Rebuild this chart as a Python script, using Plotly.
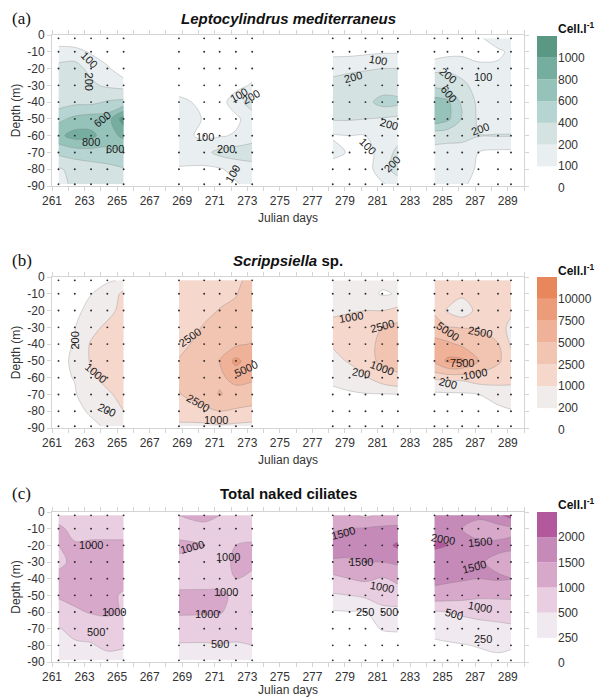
import plotly.graph_objects as go

# ---------------- data ----------------
depths = [-2, -10, -20, -30, -40, -50, -60, -70, -80, -89]

days_b1 = [261.4, 262.4, 263.4, 264.4, 265.4]
days_b2 = [268.8, 270.35, 271.3, 272.3, 273.3]
days_b3 = [278.25, 279.28, 280.26, 281.29, 282.25]
days_b4 = [284.5, 285.3, 286.2, 287.2, 288.4, 289.2]

# (a) Leptocylindrus mediterraneus (cell/l), rows = depths, cols = days
lepto_levels = [0, 100, 200, 400, 600, 800, 1000]
lepto_colors = ["#ffffff", "#e9eff1", "#d4e3e2", "#b6d5d2", "#95c2b9", "#75ad9f", "#5a9884"]
lepto_b1 = [
    [40, 40, 40, 30, 30],
    [140, 130, 90, 60, 50],
    [230, 250, 160, 110, 60],
    [260, 280, 230, 170, 130],
    [300, 350, 350, 420, 450],
    [550, 650, 700, 700, 1100],
    [750, 880, 850, 700, 850],
    [450, 500, 520, 550, 600],
    [180, 250, 300, 330, 380],
    [170, 220, 280, 300, 330],
]
lepto_b2 = [
    [30, 30, 30, 30, 30],
    [40, 40, 40, 40, 40],
    [50, 50, 50, 50, 60],
    [60, 50, 50, 70, 110],
    [120, 80, 60, 150, 250],
    [180, 90, 60, 80, 150],
    [130, 80, 90, 110, 150],
    [150, 170, 230, 250, 260],
    [90, 80, 90, 130, 150],
    [60, 50, 60, 90, 130],
]
lepto_b3 = [
    [30, 30, 30, 30, 40],
    [70, 70, 80, 90, 90],
    [170, 180, 190, 200, 200],
    [230, 250, 260, 280, 280],
    [260, 280, 330, 480, 460],
    [210, 210, 200, 180, 150],
    [90, 100, 100, 120, 160],
    [130, 90, 70, 130, 230],
    [50, 50, 60, 150, 250],
    [30, 40, 50, 90, 140],
]
lepto_b4 = [
    [40, 40, 60, 90, 130, 150],
    [60, 70, 80, 70, 90, 110],
    [150, 170, 150, 120, 110, 110],
    [350, 300, 230, 150, 130, 130],
    [700, 650, 350, 160, 150, 150],
    [750, 650, 380, 170, 150, 150],
    [260, 250, 240, 205, 205, 205],
    [150, 140, 140, 100, 80, 80],
    [140, 140, 130, 90, 70, 60],
    [120, 120, 110, 80, 60, 50],
]

# (b) Scrippsiella sp.
scrip_levels = [0, 200, 1000, 2500, 5000, 7500, 10000]
scrip_colors = ["#ffffff", "#f0ecec", "#f5d7cc", "#f2c4b2", "#f0b199", "#ed9c7a", "#e9875c"]
scrip_b1 = [
    [50, 60, 80, 150, 250],
    [60, 80, 190, 400, 1200],
    [80, 120, 300, 700, 1300],
    [90, 180, 700, 1200, 1400],
    [100, 220, 1100, 1300, 1400],
    [120, 250, 1100, 1300, 1400],
    [100, 220, 900, 1200, 1400],
    [80, 160, 500, 900, 1200],
    [60, 100, 250, 500, 1000],
    [40, 60, 120, 250, 450],
]
scrip_b2 = [
    [1200, 1500, 2000, 2300, 2800],
    [1300, 1600, 2200, 2450, 3000],
    [1400, 2200, 2550, 2700, 3200],
    [1800, 2600, 2800, 3200, 3500],
    [2100, 3000, 3500, 4500, 5200],
    [2600, 3500, 5100, 8200, 6000],
    [2800, 3800, 4500, 5800, 5500],
    [2400, 3500, 5200, 4000, 3500],
    [1800, 2000, 2500, 2200, 2000],
    [700, 700, 800, 700, 600],
]
scrip_b3 = [
    [400, 500, 500, 400, 400],
    [500, 500, 500, 120, 250],
    [800, 900, 1000, 1000, 1200],
    [1300, 1500, 1800, 2500, 3000],
    [1100, 1400, 1800, 3000, 5200],
    [700, 1100, 1600, 3000, 3800],
    [300, 500, 900, 1500, 1900],
    [100, 120, 150, 150, 180],
    [50, 50, 60, 60, 60],
    [30, 30, 40, 40, 40],
]
scrip_b4 = [
    [1500, 1800, 1800, 1800, 1700, 1500],
    [1700, 1500, 1300, 1600, 1500, 1300],
    [1800, 900, 100, 1500, 1600, 1200],
    [4500, 2600, 2400, 2300, 1500, 700],
    [5300, 5500, 4500, 3500, 2600, 800],
    [5500, 8000, 8000, 5000, 2800, 1500],
    [1100, 1200, 1200, 1500, 1500, 1300],
    [60, 80, 100, 200, 400, 600],
    [40, 40, 50, 60, 80, 150],
    [30, 30, 40, 40, 50, 80],
]

# (c) Total naked ciliates
cil_levels = [0, 250, 500, 1000, 1500, 2000]
cil_colors = ["#ffffff", "#f1e9f0", "#e9cde0", "#d8a8cb", "#c68ab9", "#b3589c"]
cil_b1 = [
    [800, 850, 850, 900, 900],
    [1100, 850, 800, 800, 800],
    [1000, 1050, 1100, 1100, 1100],
    [800, 1200, 1250, 1300, 1400],
    [1250, 1300, 1300, 1300, 1250],
    [1050, 1200, 1300, 1200, 900],
    [800, 900, 1050, 1100, 950],
    [480, 600, 600, 700, 750],
    [450, 450, 480, 550, 520],
    [350, 400, 400, 420, 430],
]
cil_b2 = [
    [1000, 1050, 1000, 900, 850],
    [900, 950, 900, 850, 800],
    [1050, 1000, 950, 1000, 1050],
    [950, 950, 900, 1050, 1100],
    [800, 850, 900, 1000, 900],
    [1100, 1080, 1050, 950, 800],
    [1050, 1050, 1050, 800, 450],
    [800, 750, 700, 700, 650],
    [450, 450, 480, 450, 500],
    [350, 380, 400, 350, 420],
]
cil_b3 = [
    [1200, 1100, 900, 1100, 1200],
    [1450, 1500, 1550, 1600, 1600],
    [1700, 1650, 1700, 1800, 2100],
    [1450, 1450, 1500, 1500, 1600],
    [850, 1000, 1100, 950, 1100],
    [450, 500, 550, 800, 800],
    [230, 240, 250, 300, 350],
    [180, 180, 200, 260, 270],
    [150, 150, 160, 170, 170],
    [150, 150, 150, 150, 150],
]
cil_b4 = [
    [1600, 1700, 1600, 1600, 1900, 2200],
    [1800, 1800, 1500, 1300, 1300, 1400],
    [2100, 2000, 1700, 1600, 1600, 1600],
    [1700, 1700, 1650, 1550, 1400, 1300],
    [1650, 1600, 1550, 1500, 1550, 1500],
    [1300, 1250, 1200, 1100, 1100, 1100],
    [450, 500, 550, 600, 650, 700],
    [300, 320, 350, 380, 400, 420],
    [220, 230, 240, 260, 280, 270],
    [200, 200, 200, 200, 220, 200],
]

# contour-label texts as printed on the figure: (text, day, depth, angle)
lepto_labels = [
    ("100", 263.3, -15, 45), ("200", 263.3, -28, 90), ("600", 264.1, -50, -40),
    ("800", 263.4, -64, 0), ("600", 264.9, -68, 0), ("100", 270.4, -60.5, 0),
    ("200", 271.7, -68, 0), ("100", 272.1, -83, -60), ("100", 272.5, -36, -30),
    ("200", 273.2, -37, -30), ("100", 281.0, -15, 10), ("200", 279.5, -25, -15),
    ("200", 281.7, -53, 15), ("100", 280.4, -66, 45), ("200", 281.9, -77, -45),
    ("200", 285.3, -24, 40), ("600", 285.4, -35, 50), ("100", 287.5, -25, 0),
    ("200", 287.3, -56, -20),
]
scrip_labels = [
    ("200", 262.4, -38, -90), ("1000", 263.7, -57, 40), ("200", 264.4, -79, 25),
    ("2500", 269.5, -36, -35), ("5000", 272.9, -55, -25), ("2500", 270.0, -75, 30),
    ("1000", 271.1, -85, 0), ("1000", 279.4, -24, -10), ("2500", 281.3, -29, -15),
    ("200", 280.0, -57, 10), ("1000", 281.3, -54, 20), ("5000", 285.3, -32, 35),
    ("2500", 287.3, -33, 10), ("7500", 286.2, -51, 0), ("1000", 287.0, -58, -10),
    ("200", 285.3, -63, 15),
]
cil_labels = [
    ("1000", 263.4, -20, 0), ("1000", 264.8, -60, 0), ("500", 263.7, -72, 0),
    ("1000", 269.6, -21, -15), ("1000", 271.8, -27, 0), ("1000", 271.7, -48, 0),
    ("1000", 270.5, -61, 0), ("500", 271.3, -79, 0), ("1500", 278.9, -12.5, -15),
    ("1500", 280.0, -30, 0), ("1000", 281.3, -45, 10), ("250", 280.2, -60, 0),
    ("500", 281.7, -60, 0), ("2000", 285.0, -16, 10), ("1500", 287.3, -18, -5),
    ("1500", 286.9, -33, -15), ("1000", 287.3, -57, 10), ("500", 285.7, -61, 15),
    ("250", 287.5, -76, 0),
]

x_tick0, x_dtick = 261, 2
y_ticks = list(range(0, -91, -10))

panels = [
    dict(tag="(a)", title="<b><i>Leptocylindrus mediterraneus</i></b>",
         levels=lepto_levels, colors=lepto_colors, labels=lepto_labels,
         blocks=[lepto_b1, lepto_b2, lepto_b3, lepto_b4]),
    dict(tag="(b)", title="<b><i>Scrippsiella</i> sp.</b>",
         levels=scrip_levels, colors=scrip_colors, labels=scrip_labels,
         blocks=[scrip_b1, scrip_b2, scrip_b3, scrip_b4]),
    dict(tag="(c)", title="<b>Total naked ciliates</b>",
         levels=cil_levels, colors=cil_colors, labels=cil_labels,
         blocks=[cil_b1, cil_b2, cil_b3, cil_b4]),
]
block_days = [days_b1, days_b2, days_b3, days_b4]

# ---------------- layout geometry (pixels) ----------------
W, H = 596, 697
plot_px = [(35, 186), (277, 428), (512, 662)]
cbar_px = [(36, 188), (277, 430), (512, 663)]
title_y = [18, 260, 493]
cbar_title_y = [28, 270, 504]
x_left, x_right = 52, 524
cb_left, cb_right = 537, 557

FONT = "Liberation Sans"
AX_COLOR = "#d4d4d4"
TXT = "#333333"


def py(p):
    return 1 - p / H


fig = go.Figure()
layout = dict(width=W, height=H, margin=dict(l=0, r=0, t=0, b=0),
              paper_bgcolor="white", plot_bgcolor="white",
              showlegend=False, barmode="overlay", template="none",
              font=dict(family=FONT, size=12, color=TXT))
annotations = []

for i, p in enumerate(panels):
    k = 2 * i + 1
    xa, ya = f"x{'' if k == 1 else k}", f"y{'' if k == 1 else k}"
    xcb, ycb = f"x{k + 1}", f"y{k + 1}"
    lv, cols = p["levels"], p["colors"]

    # filled bands: one single-level fill trace per level (raw values)
    for L, c in zip(lv[1:], cols[1:]):
        for days, z in zip(block_days, p["blocks"]):
            fig.add_trace(go.Contour(
                x=days, y=depths, z=z, xaxis=xa, yaxis=ya,
                autocontour=False,
                contours=dict(start=L, end=L, size=1, coloring="fill", showlines=False),
                colorscale=[[0, "rgba(255,255,255,0)"], [1, c]],
                line=dict(width=0), showscale=False, hoverinfo="skip"))
    # contour lines on top
    for L in lv[1:]:
        for days, z in zip(block_days, p["blocks"]):
            fig.add_trace(go.Contour(
                x=days, y=depths, z=z, xaxis=xa, yaxis=ya,
                autocontour=False,
                contours=dict(start=L, end=L, size=1, coloring="none", showlabels=False),
                line=dict(width=0.6, color="rgba(120,120,120,0.5)"),
                showscale=False, hoverinfo="skip"))
    # sampling points
    for days in block_days:
        xs = [d for _ in depths for d in days]
        ys = [dep for dep in depths for _ in days]
        fig.add_trace(go.Scatter(x=xs, y=ys, mode="markers", xaxis=xa, yaxis=ya,
                                 marker=dict(size=1.9, color="#2a2a2a"),
                                 hoverinfo="skip"))
    # colour bar built as stacked bands
    n = len(lv)
    fig.add_trace(go.Bar(x=[0] * n, y=[1] * n, base=list(range(n)), width=1,
                         marker=dict(color=cols, line=dict(width=0)),
                         xaxis=xcb, yaxis=ycb, hoverinfo="skip"))

    # contour labels
    for txt, dx, dy, ang in p["labels"]:
        annotations.append(dict(text=txt, x=dx, y=dy, xref=xa, yref=ya,
                                showarrow=False, textangle=ang,
                                font=dict(family=FONT, size=11, color="#1a1a1a")))

    top, bot = plot_px[i]
    axis_common = dict(showgrid=False, zeroline=False, showline=True,
                       linecolor=AX_COLOR, linewidth=1, mirror="ticks",
                       ticks="outside", ticklen=4, tickcolor=AX_COLOR,
                       tickfont=dict(family=FONT, size=12, color=TXT))
    layout[f"xaxis{'' if k == 1 else k}"] = dict(
        domain=[x_left / W, x_right / W], range=[261, 290], anchor=ya,
        tickmode="linear", tick0=x_tick0, dtick=x_dtick,
        minor=dict(dtick=1, tick0=x_tick0, ticks="outside", ticklen=4, tickcolor=AX_COLOR),
        title=dict(text="Julian days", font=dict(family=FONT, size=12, color=TXT), standoff=6),
        **axis_common)
    layout[f"yaxis{'' if k == 1 else k}"] = dict(
        domain=[py(bot), py(top)], range=[-90, 0], anchor=xa,
        tickmode="array", tickvals=y_ticks, ticktext=[str(v) for v in y_ticks],
        title=dict(text="Depth (m)", font=dict(family=FONT, size=12, color=TXT), standoff=4),
        **axis_common)
    ctop, cbot = cbar_px[i]
    layout[f"xaxis{k + 1}"] = dict(domain=[cb_left / W, cb_right / W], range=[-0.5, 0.5],
                                   anchor=ycb, visible=False, fixedrange=True)
    layout[f"yaxis{k + 1}"] = dict(domain=[py(cbot), py(ctop)], range=[0, n], anchor=xcb,
                                   side="right", showgrid=False, zeroline=False,
                                   showline=False, ticks="",
                                   tickmode="array", tickvals=list(range(n)),
                                   ticktext=[str(v) for v in lv],
                                   tickfont=dict(family=FONT, size=12, color=TXT))

    annotations.append(dict(text=p["tag"], x=10 / W, y=py(title_y[i]), xref="paper", yref="paper",
                            xanchor="left", yanchor="middle", showarrow=False,
                            font=dict(family="Liberation Serif", size=17, color="#111")))
    annotations.append(dict(text=p["title"], x=288 / W, y=py(title_y[i]), xref="paper", yref="paper",
                            xanchor="center", yanchor="middle", showarrow=False,
                            font=dict(family=FONT, size=15, color="#111")))
    annotations.append(dict(text="<b>Cell.l<sup>-1</sup></b>", x=556 / W, y=py(cbar_title_y[i]),
                            xref="paper", yref="paper", xanchor="left", yanchor="middle",
                            showarrow=False, font=dict(family=FONT, size=12, color="#111")))

layout["annotations"] = annotations
fig.update_layout(**layout)
fig.write_html("out.html")
